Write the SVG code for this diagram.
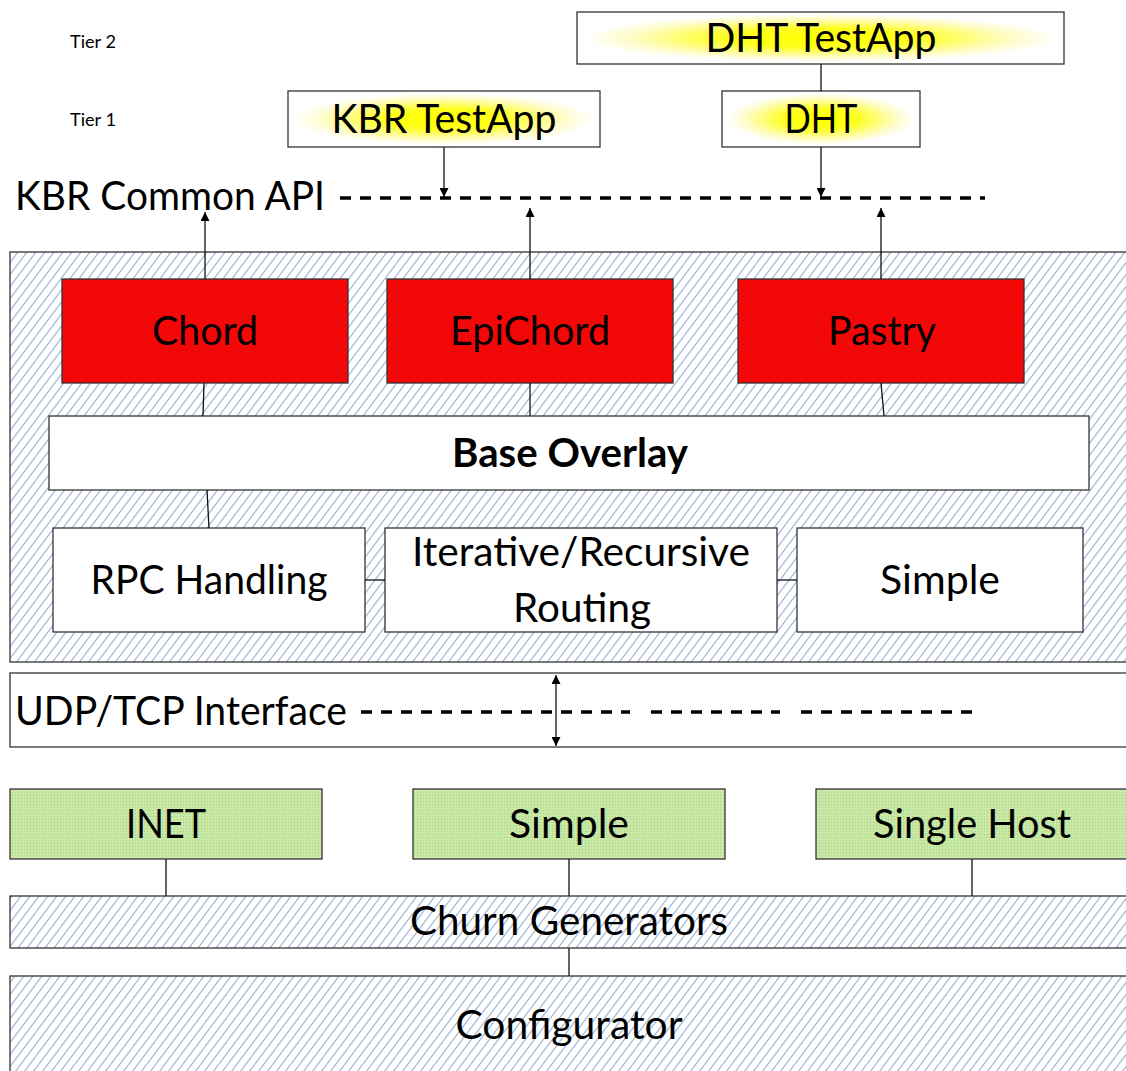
<svg xmlns="http://www.w3.org/2000/svg" width="1126" height="1071" viewBox="0 0 1126 1071">
<style>
.box{stroke:#333;stroke-width:1.3}
.t{font-family:Lato,"Open Sans","Liberation Sans",sans-serif;fill:#000;text-anchor:middle}
.big{font-size:40px}
.small{font-size:17px;text-anchor:start}
.conn{stroke:#111;stroke-width:1.3;fill:none}
.dash{stroke:#000;stroke-width:3.3;stroke-dasharray:11 9;fill:none}
</style>
<defs>
<pattern id="hatch" patternUnits="userSpaceOnUse" width="9" height="12">
<rect width="9" height="12" fill="#fff"/>
<path d="M-1.5,14 L10.5,-2 M-10.5,14 L1.5,-2 M7.5,14 L19.5,-2" stroke="#9fb5d9" stroke-width="1.2"/>
</pattern>
<pattern id="red" patternUnits="userSpaceOnUse" width="3" height="3">
<rect width="3" height="3" fill="#fa0505"/>
<rect width="1" height="1" fill="#c41818"/>
</pattern>
<pattern id="green" patternUnits="userSpaceOnUse" width="3" height="3">
<rect width="3" height="3" fill="#c8e8a6"/>
<rect width="1" height="1" fill="#a7cf80"/>
</pattern>
<radialGradient id="glow" cx="0.5" cy="0.5" r="0.5">
<stop offset="0" stop-color="#ffff00"/>
<stop offset="0.4" stop-color="#ffff20"/>
<stop offset="0.8" stop-color="#fffcc8"/>
<stop offset="1" stop-color="#ffffff"/>
</radialGradient>
<marker id="ah" viewBox="0 0 10 10" refX="10" refY="5" markerWidth="10" markerHeight="9" orient="auto" markerUnits="userSpaceOnUse">
<path d="M0,0 L10,5 L0,10 z" fill="#000"/>
</marker>
</defs>

<g id="tier-labels">
<text class="t small" x="70" y="48" textLength="46" lengthAdjust="spacingAndGlyphs">Tier 2</text>
<text class="t small" x="70" y="126" textLength="46" lengthAdjust="spacingAndGlyphs">Tier 1</text>
</g>

<g id="dht-testapp">
<rect class="box" x="577" y="12" width="487" height="52" fill="#fff"/>
<ellipse cx="821" cy="38" rx="238" ry="24" fill="url(#glow)"/>
<text class="t big" x="821" y="52" textLength="231" lengthAdjust="spacingAndGlyphs">DHT TestApp</text>
</g>

<g id="kbr-testapp">
<rect class="box" x="288" y="91" width="312" height="56" fill="#fff"/>
<ellipse cx="444" cy="119" rx="150" ry="26" fill="url(#glow)"/>
<text class="t big" x="444" y="133" textLength="225" lengthAdjust="spacingAndGlyphs">KBR TestApp</text>
</g>

<g id="dht">
<rect class="box" x="722" y="91" width="198" height="56" fill="#fff"/>
<ellipse cx="821" cy="119" rx="94" ry="26" fill="url(#glow)"/>
<text class="t big" x="821" y="133" textLength="73" lengthAdjust="spacingAndGlyphs">DHT</text>
</g>

<g id="kbr-common-api">
<text class="t big" x="170" y="210" textLength="310" lengthAdjust="spacingAndGlyphs">KBR Common API</text>
<line class="dash" x1="340" y1="198" x2="985" y2="198"/>
</g>

<g id="overlay-layer">
<rect class="box" x="10" y="252" width="1125" height="410" fill="url(#hatch)"/>
</g>

<g id="chord">
<rect class="box" x="62" y="279" width="286" height="104" fill="url(#red)"/>
<text class="t big" x="205" y="345" textLength="106" lengthAdjust="spacingAndGlyphs">Chord</text>
</g>
<g id="epichord">
<rect class="box" x="387" y="279" width="286" height="104" fill="url(#red)"/>
<text class="t big" x="530" y="345" textLength="160" lengthAdjust="spacingAndGlyphs">EpiChord</text>
</g>
<g id="pastry">
<rect class="box" x="738" y="279" width="286" height="104" fill="url(#red)"/>
<text class="t big" x="882" y="345" textLength="108" lengthAdjust="spacingAndGlyphs">Pastry</text>
</g>

<g id="base-overlay">
<rect class="box" x="49" y="416" width="1040" height="74" fill="#fff"/>
<text class="t big" x="570" y="467" font-weight="bold" textLength="236" lengthAdjust="spacingAndGlyphs">Base Overlay</text>
</g>

<g id="rpc-handling">
<rect class="box" x="53" y="528" width="312" height="104" fill="#fff"/>
<text class="t big" x="209" y="594" textLength="237" lengthAdjust="spacingAndGlyphs">RPC Handling</text>
</g>
<g id="routing">
<rect class="box" x="385" y="528" width="392" height="104" fill="#fff"/>
<text class="t big" x="581" y="566" textLength="338" lengthAdjust="spacingAndGlyphs">Iterative/Recursive</text>
<text class="t big" x="582" y="622" textLength="138" lengthAdjust="spacingAndGlyphs">Routing</text>
</g>
<g id="simple-overlay">
<rect class="box" x="797" y="528" width="286" height="104" fill="#fff"/>
<text class="t big" x="940" y="594" textLength="120" lengthAdjust="spacingAndGlyphs">Simple</text>
</g>

<g id="udp-tcp-interface">
<rect class="box" x="10" y="673" width="1125" height="74" fill="#fff"/>
<text class="t big" x="181" y="725" textLength="332" lengthAdjust="spacingAndGlyphs">UDP/TCP Interface</text>
<line class="dash" x1="361" y1="712" x2="630" y2="712"/>
<line class="dash" x1="651" y1="712" x2="780" y2="712"/>
<line class="dash" x1="801" y1="712" x2="976" y2="712"/>
</g>

<g id="inet">
<rect class="box" x="10" y="789" width="312" height="70" fill="url(#green)"/>
<text class="t big" x="166" y="838" textLength="80" lengthAdjust="spacingAndGlyphs">INET</text>
</g>
<g id="simple-underlay">
<rect class="box" x="413" y="789" width="312" height="70" fill="url(#green)"/>
<text class="t big" x="569" y="838" textLength="120" lengthAdjust="spacingAndGlyphs">Simple</text>
</g>
<g id="single-host">
<rect class="box" x="816" y="789" width="320" height="70" fill="url(#green)"/>
<text class="t big" x="972" y="838" textLength="198" lengthAdjust="spacingAndGlyphs">Single Host</text>
</g>

<g id="churn-generators">
<rect class="box" x="10" y="896" width="1125" height="52" fill="url(#hatch)"/>
<text class="t big" x="569" y="935" textLength="318" lengthAdjust="spacingAndGlyphs">Churn Generators</text>
</g>

<g id="configurator">
<rect class="box" x="10" y="976" width="1125" height="110" fill="url(#hatch)"/>
<text class="t big" x="569" y="1039" textLength="227" lengthAdjust="spacingAndGlyphs">Configurator</text>
</g>

<g id="connectors">
<line class="conn" x1="821" y1="64" x2="821" y2="91"/>
<line class="conn" x1="444" y1="147" x2="444" y2="197" marker-end="url(#ah)"/>
<line class="conn" x1="821" y1="147" x2="821" y2="197" marker-end="url(#ah)"/>
<line class="conn" x1="205" y1="279" x2="205" y2="212" marker-end="url(#ah)"/>
<line class="conn" x1="530" y1="279" x2="530" y2="208" marker-end="url(#ah)"/>
<line class="conn" x1="881" y1="279" x2="881" y2="208" marker-end="url(#ah)"/>
<line class="conn" x1="204" y1="383" x2="203" y2="416"/>
<line class="conn" x1="530" y1="383" x2="530" y2="416"/>
<line class="conn" x1="881" y1="383" x2="884" y2="416"/>
<line class="conn" x1="207" y1="490" x2="209" y2="528"/>
<line class="conn" x1="365" y1="580" x2="385" y2="580"/>
<line class="conn" x1="777" y1="580" x2="797" y2="580"/>
<line class="conn" x1="556" y1="710" x2="556" y2="675" marker-end="url(#ah)"/>
<line class="conn" x1="556" y1="710" x2="556" y2="746" marker-end="url(#ah)"/>
<line class="conn" x1="166" y1="859" x2="166" y2="896"/>
<line class="conn" x1="569" y1="859" x2="569" y2="896"/>
<line class="conn" x1="972" y1="859" x2="972" y2="896"/>
<line class="conn" x1="569" y1="948" x2="569" y2="976"/>
</g>
</svg>
